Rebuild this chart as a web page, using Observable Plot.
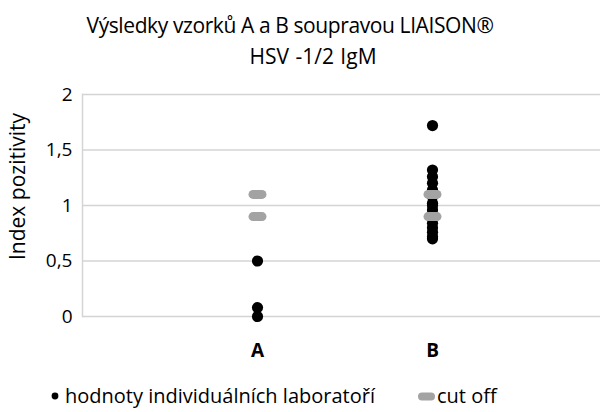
<!DOCTYPE html>
<html>
<head>
<meta charset="utf-8">
<script src="https://cdn.jsdelivr.net/npm/d3@7"></script>
<script src="https://cdn.jsdelivr.net/npm/@observablehq/plot@0.6"></script>
<style>
  html, body { margin: 0; padding: 0; background: #fff; }
  body { width: 600px; height: 412px; overflow: hidden; font-family: "Open Sans", sans-serif; color: #000; }
  #title { height: 74px; position: relative; }
  #title div { position: absolute; white-space: nowrap; transform: translateX(-50%); line-height: 1; }
  #legend { position: relative; height: 40px; font-size: 20px; }
  #legend .item { position: absolute; top: 14px; white-space: nowrap; display: flex; align-items: center; line-height: 1; }
  svg { display: block; overflow: visible; }
</style>
</head>
<body>
<div id="title"></div>
<div id="chart"></div>
<div id="legend"></div>
<script>
const titleLines = ["Výsledky vzorků A a B soupravou LIAISON®", "HSV -1/2 IgM"];
const yLabel = "Index pozitivity";
const categories = ["A", "B"];
const valuesA = [0, 0.08, 0.5];
const valuesB = [1.72, 1.32, 1.26, 1.2, 1.14, 1.08, 1.02, 1.0, 0.96, 0.92, 0.84, 0.8, 0.76, 0.72, 0.7];
const cutoffA = [0.9, 1.1];
const cutoffB = [0.9, 1.1];
const yTicks = [0, 0.5, 1, 1.5, 2];
const legendLabels = ["hodnoty individuálních laboratoří", "cut off"];

const labs = [
  ...valuesA.map(v => ({cat: "A", v})),
  ...valuesB.map(v => ({cat: "B", v}))
];
const cuts = [
  ...cutoffA.map(v => ({cat: "A", v})),
  ...cutoffB.map(v => ({cat: "B", v}))
];

const dashSymbol = {
  draw(ctx) { ctx.moveTo(-4.5, 0); ctx.lineTo(4.5, 0); }
};

const gridColor = "#d4d4d4";
const gray = "#a3a3a3";

// title
const t = document.getElementById("title");
[[titleLines[0], 290, 15, 21, 0, -0.4], [titleLines[1], 313, 46, 21, 1, 0]].forEach(([s, cx, top, fs, ws, ls]) => {
  const d = document.createElement("div");
  d.textContent = s;
  d.style.left = cx + "px"; d.style.top = top + "px";
  d.style.fontSize = fs + "px"; d.style.wordSpacing = ws + "px"; d.style.letterSpacing = ls + "px";
  t.appendChild(d);
});

const plot = Plot.plot({
  width: 600,
  height: 298,
  marginTop: 20,
  marginBottom: 56,
  marginLeft: 82,
  marginRight: 0,
  style: {fontFamily: "Open Sans, sans-serif", fontSize: "19px", color: "#000", overflow: "visible"},
  x: {type: "point", domain: categories, padding: 0.98, align: 0.51},
  y: {domain: [0, 2], ticks: yTicks},
  marks: [
    Plot.gridY(yTicks, {stroke: gridColor, strokeOpacity: 1, strokeWidth: 1.5}),
    Plot.frame({anchor: "left", stroke: gridColor, strokeWidth: 1.5}),
    Plot.axisY(yTicks, {tickSize: 0, tickPadding: 10, label: null, tickFormat: d => String(d).replace(".", ","), fontSize: 19}),
    Plot.axisX({tickSize: 0, tickPadding: 27, label: null, fontWeight: "bold", fontSize: 19}),
    Plot.text([yLabel], {frameAnchor: "left", textAnchor: "middle", rotate: -90, dx: -64, dy: -19, fontSize: 21}),
    Plot.dot(labs, {x: "cat", y: "v", r: 5.6, fill: "#000", stroke: "none"}),
    Plot.dot(cuts, {x: "cat", y: "v", symbol: dashSymbol, fill: "none", stroke: gray, strokeWidth: 9, strokeLinecap: "round"})
  ]
});
document.getElementById("chart").appendChild(plot);

// legend
const lg = document.getElementById("legend");
const item1 = document.createElement("div");
item1.className = "item"; item1.style.left = "51px";
item1.innerHTML = `<svg width="8" height="10" style="margin-right:6px"><circle cx="4" cy="5" r="3.4" fill="#000"/></svg><span>${legendLabels[0]}</span>`;
lg.appendChild(item1);
const item2 = document.createElement("div");
item2.className = "item"; item2.style.left = "418px";
item2.innerHTML = `<svg width="18" height="10" style="margin-right:1px"><line x1="4" x2="13" y1="5.5" y2="5.5" stroke="${gray}" stroke-width="8" stroke-linecap="round"/></svg><span>${legendLabels[1]}</span>`;
lg.appendChild(item2);
</script>
</body>
</html>
